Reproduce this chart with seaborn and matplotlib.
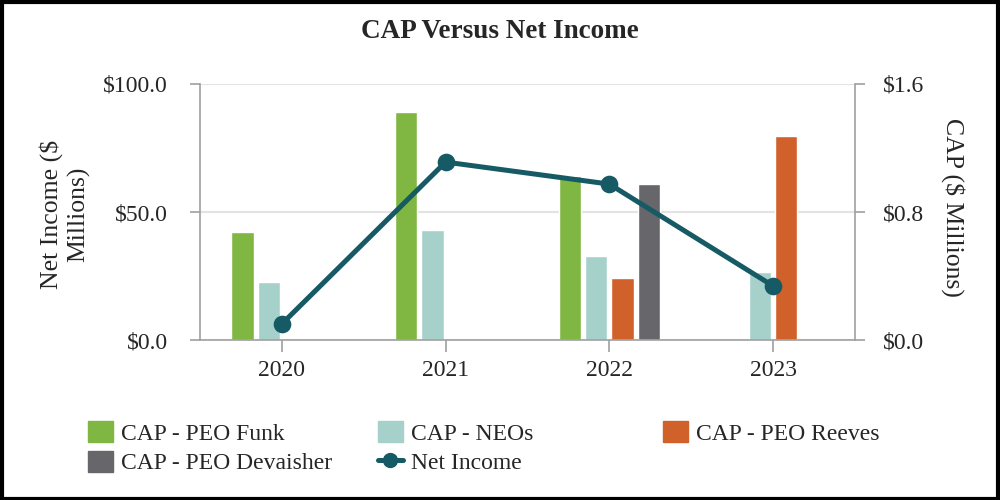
import matplotlib
matplotlib.use("Agg")
import matplotlib.pyplot as plt
import seaborn as sns
import pandas as pd
from matplotlib.patches import Patch, Rectangle
from matplotlib.lines import Line2D
from matplotlib.ticker import FixedLocator

# data
years = ['2020', '2021', '2022', '2023']
net_income = [6.3, 69.5, 60.9, 21.1]

cap_funk = {'2020': 0.675, '2021': 1.425, '2022': 1.025}
cap_neos = {'2020': 0.363, '2021': 0.688, '2022': 0.525, '2023': 0.425}
cap_reeves = {'2022': 0.388, '2023': 1.275}
cap_devaisher = {'2022': 0.975}

series_names = ['CAP - PEO Funk', 'CAP - NEOs', 'CAP - PEO Reeves', 'CAP - PEO Devaisher']
series_colors = ['#7FB742', '#A6D1CB', '#D0612A', '#67666B']
line_color = '#155A64'

left_ticks = [0, 50, 100]
left_labels = ['\\$0.0', '\\$50.0', '\\$100.0']
right_ticks = [0, 0.8, 1.6]
right_labels = ['\\$0.0', '\\$0.8', '\\$1.6']

rows = []
for name, d in zip(series_names, [cap_funk, cap_neos, cap_reeves, cap_devaisher]):
    for yr, v in d.items():
        rows.append({'year': yr, 'series': name, 'cap': v})
df = pd.DataFrame(rows)

sns.set_style('white')
plt.rcParams['font.family'] = ['Liberation Serif', 'DejaVu Serif']

fig = plt.figure(figsize=(10, 5), dpi=100)
ax = fig.add_axes([0.200, 0.32, 0.655, 0.512])
ax2 = ax.twinx()

# bars on the twin (CAP, right side), line on the main axis above
sns.barplot(data=df, x='year', y='cap', hue='series', order=years,
            hue_order=series_names, palette=series_colors, width=0.64,
            gap=0.15, dodge=True, saturation=1, ax=ax2, legend=False)
sns.pointplot(x=years, y=net_income, color=line_color, markers='o',
              markersize=10, linewidth=3.6, ax=ax)

ax.set_zorder(ax2.get_zorder() + 1)
ax.patch.set_visible(False)

ax.set_xlim(-0.5, 3.5)
ax.set_ylim(0, 100)
ax2.set_ylim(0, 1.6)

ax2.yaxis.set_major_locator(FixedLocator(right_ticks))
ax2.set_yticklabels(right_labels)
ax.yaxis.set_major_locator(FixedLocator(left_ticks))
ax.set_yticklabels(left_labels)

ax2.grid(axis='y', color='#E3E3E3', linewidth=1.5)
ax2.set_axisbelow(True)
ax.grid(False)

spine_c = '#A0A0A0'
for a in (ax, ax2):
    a.spines['top'].set_visible(False)
    for s in ('left', 'right', 'bottom'):
        a.spines[s].set_color(spine_c)
        a.spines[s].set_linewidth(1.2)
ax2.spines['left'].set_visible(False)
ax2.spines['bottom'].set_visible(False)
ax.spines['right'].set_visible(False)

ax.tick_params(axis='y', direction='out', length=7, width=1.2, color=spine_c, labelsize=17, left=True, pad=16)
ax2.tick_params(axis='y', direction='out', length=7, width=1.2, color=spine_c, labelsize=17, right=True, pad=13)
ax.tick_params(axis='x', direction='out', length=8.5, width=1.2, color=spine_c, labelsize=17, bottom=True, pad=6)
ax2.set_xlabel('')
ax.set_xlabel('')

ax.set_ylabel('Net Income (\\$\nMillions)', fontsize=18.5, linespacing=1.2)
ax.yaxis.set_label_coords(-0.168, 0.492)
ax2.set_ylabel('CAP (\\$ Millions)', fontsize=18.5, rotation=270)
ax2.yaxis.set_label_coords(1.168, 0.516)

fig.suptitle('CAP Versus Net Income', y=0.936, fontsize=19.5, fontweight='bold', va='center')

# legend in three fixed columns, filled row by row
h = [Patch(color=c) for c in series_colors]
h_line = Line2D([0], [0], color=line_color, linewidth=3.6, marker='o', markersize=10)
cols = [([h[0], h[3]], [series_names[0], series_names[3]], 0.088),
        ([h[1], h_line], [series_names[1], 'Net Income'], 0.378),
        ([h[2]], [series_names[2]], 0.663)]
for hs, ls, x in cols:
    fig.legend(hs, ls, loc='upper left', bbox_to_anchor=(x, 0.158), frameon=False,
               fontsize=17, borderpad=0, borderaxespad=0, handlelength=1.05,
               handleheight=1.0, handletextpad=0.35, labelspacing=0.25)

fig.patches.append(Rectangle((0.002, 0.003), 0.996, 0.994, transform=fig.transFigure,
                             fill=False, edgecolor='black', linewidth=3))

fig.savefig('out.png', dpi=100)
